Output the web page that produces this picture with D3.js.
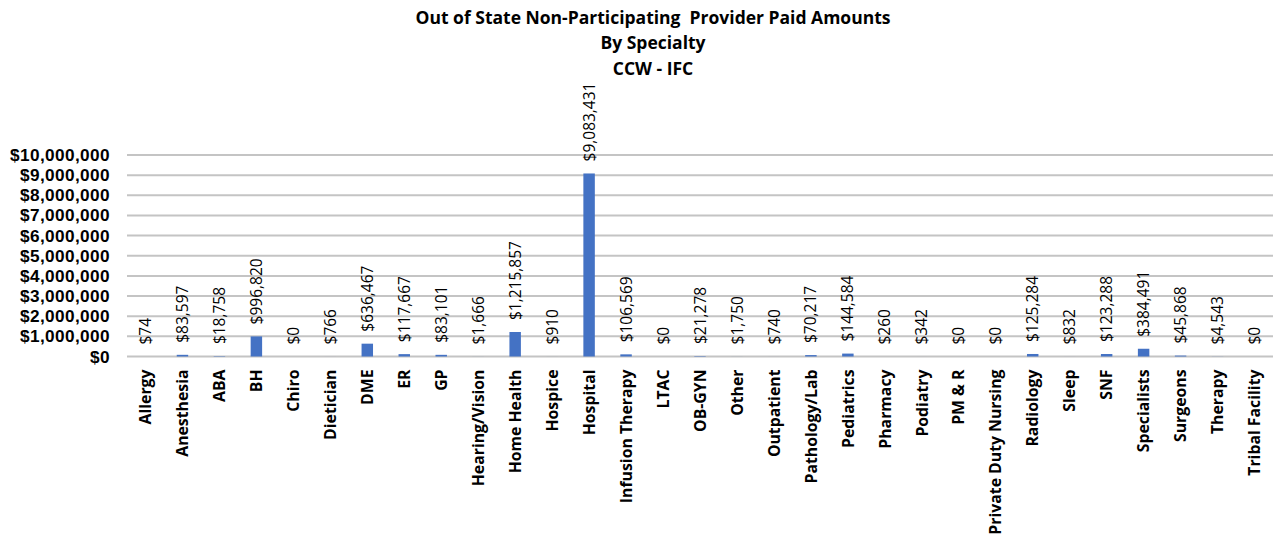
<!DOCTYPE html>
<html><head><meta charset="utf-8">
<script src="https://cdn.jsdelivr.net/npm/d3@7"></script>
<style>
html,body{margin:0;padding:0;background:#fff;}
svg{display:block;font-family:"Open Sans","Noto Sans",sans-serif;}
</style></head>
<body><svg id="c" width="1279" height="541"></svg>
<script>
const categories = ["Allergy","Anesthesia","ABA","BH","Chiro","Dietician","DME","ER","GP","Hearing/Vision","Home Health","Hospice","Hospital","Infusion Therapy","LTAC","OB-GYN","Other","Outpatient","Pathology/Lab","Pediatrics","Pharmacy","Podiatry","PM & R","Private Duty Nursing","Radiology","Sleep","SNF","Specialists","Surgeons","Therapy","Tribal Facility"];
const paidAmounts = [74,83597,18758,996820,0,766,636467,117667,83101,1666,1215857,910,9083431,106569,0,21278,1750,740,70217,144584,260,342,0,0,125284,832,123288,384491,45868,4543,0];
const yTicks = [0,1000000,2000000,3000000,4000000,5000000,6000000,7000000,8000000,9000000,10000000];
const titleLines = ["Out of State Non-Participating  Provider Paid Amounts","By Specialty","CCW - IFC"];

(function(){
const svg = d3.select("#c");
const pLeft = 127, pRight = 1273, pTop = 155, pBottom = 356.5;
const x = d3.scaleBand().domain(categories).range([pLeft, pRight]).paddingInner(0.69).paddingOuter(0.345);
const y = d3.scaleLinear().domain([0, 10000000]).range([pBottom, pTop]);
const fmt = v => "$" + d3.format(",")(v);
const ff = '"Open Sans","Noto Sans",sans-serif';

// title
svg.append("g").selectAll("text").data(titleLines).join("text")
  .attr("x", 653).attr("y", (d,i) => 23.5 + i*25.5)
  .attr("text-anchor", "middle").attr("font-size", 17.5).attr("font-weight", 700)
  .style("white-space", "pre").attr("fill", "#000").text(d => d);

// gridlines
svg.append("g").selectAll("line").data(yTicks).join("line")
  .attr("x1", pLeft).attr("x2", pRight)
  .attr("y1", d => y(d)).attr("y2", d => y(d))
  .attr("stroke", "#c4c4c4").attr("stroke-width", 2);

// y axis labels
const yAxis = d3.axisLeft(y).tickValues(yTicks).tickFormat(fmt).tickSize(0).tickPadding(0);
const ya = svg.append("g").attr("transform", `translate(${pLeft-17},0)`).call(yAxis);
ya.select(".domain").remove();
ya.selectAll("text").attr("font-size", 17.2).attr("font-weight", 700).attr("fill", "#000")
  .attr("letter-spacing", 0.4)
  .style("font-family", '"Liberation Sans",Arial,sans-serif');

// bars
svg.append("g").selectAll("rect").data(paidAmounts).join("rect")
  .attr("x", (d,i) => x(categories[i])).attr("width", x.bandwidth())
  .attr("y", d => y(d)).attr("height", d => pBottom - y(d))
  .attr("fill", "#4472C4");

// value labels
svg.append("g").selectAll("text").data(paidAmounts).join("text")
  .attr("transform", (d,i) => `translate(${x(categories[i]) + x.bandwidth()/2},${y(d) - 12}) rotate(-90)`)
  .attr("dy", "0.36em").attr("text-anchor", "start")
  .attr("font-size", 15.5).attr("fill", "#000").text(d => fmt(d));

// x axis labels
const xAxis = d3.axisBottom(x).tickSize(0).tickPadding(0);
const xa = svg.append("g").attr("transform", `translate(0,${pBottom})`).call(xAxis);
xa.select(".domain").remove();
xa.selectAll("text")
  .attr("transform", "rotate(-90)")
  .attr("x", -13).attr("y", 0).attr("dy", "0.36em")
  .attr("text-anchor", "end")
  .attr("font-size", 15.8).attr("font-weight", 700).attr("fill", "#000")
  .style("font-family", ff);
})();
</script></body></html>
